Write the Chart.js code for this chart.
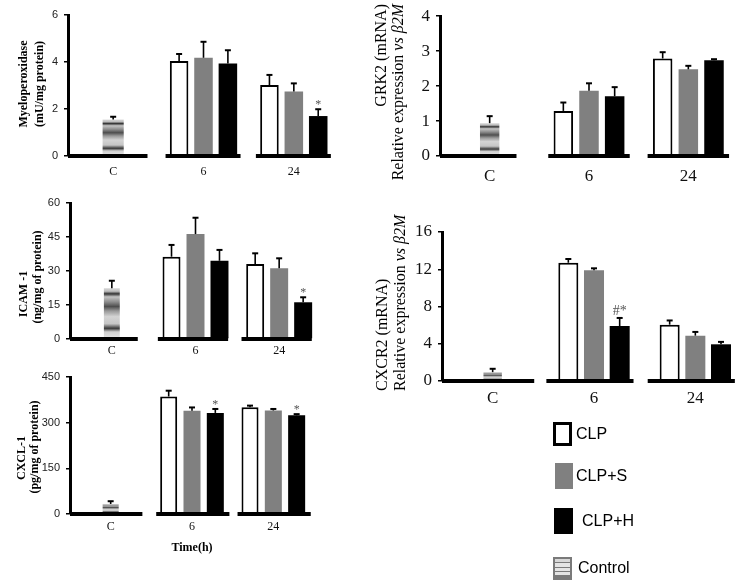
<!DOCTYPE html>
<html><head><meta charset="utf-8">
<script src="https://cdn.jsdelivr.net/npm/chart.js@4.4.1/dist/chart.umd.min.js"></script>
<style>
html,body{margin:0;padding:0;background:#fff;width:749px;height:586px;overflow:hidden;position:relative}
canvas{position:absolute;left:0;top:0}
.lgb{position:absolute;box-sizing:border-box}
.lgt{position:absolute;font-family:"Liberation Sans",Arial,sans-serif;font-size:16px;color:#000;line-height:16px;transform:translateY(-50%)}
</style></head><body>
<canvas id="mpo" width="749" height="586"></canvas>
<canvas id="icam" width="749" height="586"></canvas>
<canvas id="cxcl" width="749" height="586"></canvas>
<canvas id="grk" width="749" height="586"></canvas>
<canvas id="cxcr" width="749" height="586"></canvas>

<div class="lgb" style="left:553px;top:422px;width:19px;height:24px;border:3px solid #000;background:#fff"></div>
<div class="lgt" style="left:576px;top:434px">CLP</div>
<div class="lgb" style="left:555px;top:463px;width:18px;height:26px;background:#808080"></div>
<div class="lgt" style="left:576px;top:476px">CLP+S</div>
<div class="lgb" style="left:554px;top:508px;width:19px;height:26px;background:#000"></div>
<div class="lgt" style="left:582px;top:521px">CLP+H</div>
<div class="lgb" style="left:553px;top:557px;width:19px;height:23px;border:2px solid #7a7a7a;background:linear-gradient(#d8d8d8 0 14%,#7a7a7a 14% 22%,#e4e4e4 22% 40%,#7a7a7a 40% 48%,#e4e4e4 48% 62%,#7a7a7a 62% 70%,#e4e4e4 70% 86%,#7a7a7a 86%)"></div>
<div class="lgt" style="left:578px;top:568px">Control</div>

<script>
// ---------- shared categories ----------
const categories = ['C', '6', '24'];

// ---------- Myeloperoxidase ----------
const mpoTicks = [0, 2, 4, 6];
const mpoControl = [1.55, null, null];
const mpoControlErr = [0.12, null, null];
const mpoCLP = [null, 4.04, 3.02];
const mpoCLPErr = [null, 0.30, 0.43];
const mpoCLPS = [null, 4.18, 2.74];
const mpoCLPSErr = [null, 0.68, 0.35];
const mpoCLPH = [null, 3.94, 1.70];
const mpoCLPHErr = [null, 0.56, 0.29];
const mpoCLPHMarks = ['', '', '*'];

// ---------- ICAM-1 ----------
const icamTicks = [0, 15, 30, 45, 60];
const icamControl = [22.4, null, null];
const icamControlErr = [3.3, null, null];
const icamCLP = [null, 36.3, 33.1];
const icamCLPErr = [null, 5.2, 4.7];
const icamCLPS = [null, 46.3, 31.2];
const icamCLPSErr = [null, 7.2, 4.4];
const icamCLPH = [null, 34.5, 16.2];
const icamCLPHErr = [null, 4.8, 2.2];
const icamCLPHMarks = ['', '', '*'];

// ---------- CXCL-1 ----------
const cxclTicks = [0, 150, 300, 450];
const cxclControl = [33, null, null];
const cxclControlErr = [9, null, null];
const cxclCLP = [null, 386, 351];
const cxclCLPErr = [null, 19, 5];
const cxclCLPS = [null, 339, 340];
const cxclCLPSErr = [null, 11, 5];
const cxclCLPH = [null, 332, 324];
const cxclCLPHErr = [null, 13, 4];
const cxclCLPHMarks = ['', '*', '*'];

// ---------- GRK2 ----------
const grkTicks = [0, 1, 2, 3, 4];
const grkControl = [0.94, null, null];
const grkControlErr = [0.20, null, null];
const grkCLP = [null, 1.29, 2.79];
const grkCLPErr = [null, 0.24, 0.18];
const grkCLPS = [null, 1.87, 2.48];
const grkCLPSErr = [null, 0.21, 0.10];
const grkCLPH = [null, 1.71, 2.74];
const grkCLPHErr = [null, 0.26, 0.03];
const grkCLPHMarks = ['', '', ''];

// ---------- CXCR2 ----------
const cxcrTicks = [0, 4, 8, 12, 16];
const cxcrControl = [0.95, null, null];
const cxcrControlErr = [0.36, null, null];
const cxcrCLP = [null, 12.7, 6.05];
const cxcrCLPErr = [null, 0.40, 0.45];
const cxcrCLPS = [null, 11.9, 4.87];
const cxcrCLPSErr = [null, 0.20, 0.40];
const cxcrCLPH = [null, 5.9, 3.94];
const cxcrCLPHErr = [null, 0.87, 0.26];
const cxcrCLPHMarks = ['', '#*', ''];

// ---------- helpers ----------
function stripeFill(c) {
  const chart = c.chart;
  const v = c.raw;
  if (!chart.chartArea || v == null) return '#c8c8c8';
  const y = chart.scales.y;
  const top = y.getPixelForValue(v), bot = y.getPixelForValue(0);
  const g = chart.ctx.createLinearGradient(0, top, 0, bot);
  g.addColorStop(0.00, '#d6d6d6');
  g.addColorStop(0.06, '#bdbdbd');
  g.addColorStop(0.11, '#333333');
  g.addColorStop(0.17, '#c4c4c4');
  g.addColorStop(0.27, '#8c8c8c');
  g.addColorStop(0.36, '#4e4e4e');
  g.addColorStop(0.45, '#9a9a9a');
  g.addColorStop(0.56, '#d4d4d4');
  g.addColorStop(0.70, '#c6c6c6');
  g.addColorStop(0.79, '#3a3a3a');
  g.addColorStop(0.86, '#d0d0d0');
  g.addColorStop(1.00, '#e6e6e6');
  return g;
}

const baselinePlugin = {
  id: 'baselineSegs',
  afterDatasetsDraw(chart, args, opts) {
    const {ctx, chartArea, scales} = chart;
    const xs = scales.x, ys = scales.y;
    const y0 = ys.getPixelForValue(0);
    const cw = xs.getPixelForValue(1) - xs.getPixelForValue(0);
    ctx.save();
    ctx.strokeStyle = '#000';
    ctx.lineWidth = 4;
    ctx.lineCap = 'butt';
    for (let i = 0; i < xs.getLabels().length; i++) {
      const c = xs.getPixelForValue(i);
      let a = c - cw * opts.segL, b = c + cw * opts.segR;
      if (i === 0) { a = chartArea.left; b = c + cw * opts.segC; }
      ctx.beginPath(); ctx.moveTo(a, y0); ctx.lineTo(b, y0); ctx.stroke();
    }
    ctx.restore();
  }
};

const errPlugin = {
  id: 'errBars',
  afterDatasetsDraw(chart, args, opts) {
    const {ctx, scales} = chart;
    const ys = scales.y;
    ctx.save();
    chart.data.datasets.forEach((ds, i) => {
      const meta = chart.getDatasetMeta(i);
      ds.data.forEach((v, j) => {
        if (v == null) return;
        const el = meta.data[j];
        const e = ds.err ? ds.err[j] : null;
        const x = el.x;
        const yt = ys.getPixelForValue(v);
        let ye = yt;
        if (e != null) {
          ye = ys.getPixelForValue(v + e);
          ctx.strokeStyle = '#000';
          ctx.lineWidth = 1.6;
          ctx.beginPath(); ctx.moveTo(x, yt); ctx.lineTo(x, ye); ctx.stroke();
          ctx.lineWidth = 2;
          ctx.beginPath(); ctx.moveTo(x - 3, ye); ctx.lineTo(x + 3, ye); ctx.stroke();
        }
        const m = ds.marks ? ds.marks[j] : '';
        if (m) {
          ctx.fillStyle = '#555';
          ctx.font = opts.markFont;
          ctx.textAlign = 'center';
          ctx.textBaseline = 'alphabetic';
          ctx.fillText(m, x, ye - opts.markGap);
        }
      });
    });
    ctx.restore();
  }
};

const textPlugin = {
  id: 'richTexts',
  afterDraw(chart, args, opts) {
    const ctx = chart.ctx;
    (opts.items || []).forEach(it => {
      ctx.save();
      ctx.translate(it.x, it.y);
      if (it.rot) ctx.rotate(it.rot);
      ctx.fillStyle = it.color || '#000';
      ctx.textBaseline = 'middle';
      ctx.textAlign = 'left';
      let total = 0;
      it.parts.forEach(p => { ctx.font = p.f; total += ctx.measureText(p.t).width; });
      let pos = it.align === 'right' ? -total : it.align === 'left' ? 0 : -total / 2;
      it.parts.forEach(p => { ctx.font = p.f; ctx.fillText(p.t, pos, 0); pos += ctx.measureText(p.t).width; });
      ctx.restore();
    });
  }
};

function makePanel(id, p) {
  const YW = p.yW, XH = 40;
  const common = {skipNull: true, barPercentage: p.barPct, categoryPercentage: p.grpPct, borderSkipped: 'start'};
  const datasets = [
    Object.assign({}, common, {label: 'Control', data: p.control, err: p.controlErr, backgroundColor: stripeFill, borderWidth: 0, categoryPercentage: p.ctrlCat, barPercentage: p.ctrlBar}),
    Object.assign({}, common, {label: 'CLP', data: p.clp, err: p.clpErr, backgroundColor: '#ffffff', borderColor: '#000', borderWidth: 2}),
    Object.assign({}, common, {label: 'CLP+S', data: p.clps, err: p.clpsErr, backgroundColor: '#808080', borderWidth: 0}),
    Object.assign({}, common, {label: 'CLP+H', data: p.clph, err: p.clphErr, marks: p.clphMarks, backgroundColor: '#000000', borderWidth: 0})
  ];
  new Chart(document.getElementById(id), {
    type: 'bar',
    data: {labels: categories, datasets},
    options: {
      responsive: false,
      animation: false,
      events: [],
      layout: {autoPadding: false, padding: {left: p.L - YW, right: 749 - p.R, top: p.T, bottom: 586 - p.B - XH}},
      scales: {
        x: {
          type: 'category', offset: true,
          grid: {display: false, drawTicks: false},
          border: {display: false},
          ticks: {font: p.xFont, color: '#111', padding: p.xPad, maxRotation: 0, autoSkip: false},
          afterFit: s => { s.height = XH; }
        },
        y: {
          min: 0, max: p.ticks[p.ticks.length - 1],
          afterBuildTicks: s => { s.ticks = p.ticks.map(v => ({value: v})); },
          ticks: {font: p.yFont, color: p.yColor, padding: p.yPad},
          grid: {drawOnChartArea: false, drawTicks: true, tickLength: 4, color: '#000', lineWidth: 1.5},
          border: {display: true, color: '#000', width: 3},
          afterFit: s => { s.width = YW; }
        }
      },
      plugins: {
        legend: {display: false},
        tooltip: {enabled: false},
        baselineSegs: {segL: p.segL, segR: p.segR, segC: p.segC},
        errBars: {markFont: p.markFont, markGap: p.markGap},
        richTexts: {items: p.texts}
      }
    },
    plugins: [baselinePlugin, errPlugin, textPlugin]
  });
}

const leftY = {family: '"Liberation Sans", Arial, sans-serif', size: 11};
const leftX = {family: '"Liberation Serif", "Times New Roman", serif', size: 12};
const rightY = {family: '"Liberation Serif", "Times New Roman", serif', size: 17};
const rightX = {family: '"Liberation Serif", "Times New Roman", serif', size: 17};
const bTitle = 'bold 12px "Liberation Serif", "Times New Roman", serif';
const rT = '16px "Liberation Serif", "Times New Roman", serif';
const rTi = 'italic 16px "Liberation Serif", "Times New Roman", serif';
const ROT = -Math.PI / 2;

makePanel('mpo', {
  control: mpoControl, controlErr: mpoControlErr, clp: mpoCLP, clpErr: mpoCLPErr,
  clps: mpoCLPS, clpsErr: mpoCLPSErr, clph: mpoCLPH, clphErr: mpoCLPHErr, clphMarks: mpoCLPHMarks,
  ticks: mpoTicks, L: 68, R: 339, T: 15, B: 156, yW: 45,
  ctrlCat: 0.30, ctrlBar: 0.78, grpPct: 0.81, barPct: 0.76,
  segL: 0.42, segR: 0.41, segC: 0.38,
  yFont: leftY, yColor: '#222', yPad: 6, xFont: leftX, xPad: 9,
  markFont: '12px "Liberation Serif", serif', markGap: 1,
  texts: [
    {x: 24, y: 84, rot: ROT, parts: [{t: 'Myeloperoxidase', f: bTitle}]},
    {x: 40, y: 84, rot: ROT, parts: [{t: '(mU/mg protein)', f: bTitle}]}
  ]
});

makePanel('icam', {
  control: icamControl, controlErr: icamControlErr, clp: icamCLP, clpErr: icamCLPErr,
  clps: icamCLPS, clpsErr: icamCLPSErr, clph: icamCLPH, clphErr: icamCLPHErr, clphMarks: icamCLPHMarks,
  ticks: icamTicks, L: 70, R: 321, T: 203, B: 339, yW: 45,
  ctrlCat: 0.25, ctrlBar: 0.76, grpPct: 0.86, barPct: 0.75,
  segL: 0.45, segR: 0.39, segC: 0.31,
  yFont: leftY, yColor: '#222', yPad: 6, xFont: leftX, xPad: 5,
  markFont: '12px "Liberation Serif", serif', markGap: 1,
  texts: [
    {x: 24, y: 294, rot: ROT, parts: [{t: 'ICAM -1', f: bTitle}]},
    {x: 38, y: 277, rot: ROT, parts: [{t: '(ng/mg of protein)', f: bTitle}]}
  ]
});

makePanel('cxcl', {
  control: cxclControl, controlErr: cxclControlErr, clp: cxclCLP, clpErr: cxclCLPErr,
  clps: cxclCLPS, clpsErr: cxclCLPSErr, clph: cxclCLPH, clphErr: cxclCLPHErr, clphMarks: cxclCLPHMarks,
  ticks: cxclTicks, L: 70, R: 314, T: 377, B: 514, yW: 45,
  ctrlCat: 0.26, ctrlBar: 0.76, grpPct: 0.86, barPct: 0.73,
  segL: 0.44, segR: 0.46, segC: 0.39,
  yFont: leftY, yColor: '#222', yPad: 6, xFont: leftX, xPad: 6,
  markFont: '12px "Liberation Serif", serif', markGap: 1,
  texts: [
    {x: 22, y: 458, rot: ROT, parts: [{t: 'CXCL-1', f: bTitle}]},
    {x: 35, y: 447, rot: ROT, parts: [{t: '(pg/mg of protein)', f: bTitle}]},
    {x: 192, y: 548, parts: [{t: 'Time(h)', f: bTitle}]}
  ]
});

makePanel('grk', {
  control: grkControl, controlErr: grkControlErr, clp: grkCLP, clpErr: grkCLPErr,
  clps: grkCLPS, clpsErr: grkCLPSErr, clph: grkCLPH, clphErr: grkCLPHErr, clphMarks: grkCLPHMarks,
  ticks: grkTicks, L: 440, R: 738, T: 10, B: 156, yW: 40,
  ctrlCat: 0.25, ctrlBar: 0.78, grpPct: 0.775, barPct: 0.76,
  segL: 0.41, segR: 0.41, segC: 0.27,
  yFont: rightY, yColor: '#111', yPad: 6, xFont: rightX, xPad: 10,
  markFont: '14px "Liberation Serif", serif', markGap: 2,
  texts: [
    {x: 382, y: 4, rot: ROT, align: 'right', parts: [{t: 'GRK2 (mRNA)', f: rT}]},
    {x: 399, y: 4, rot: ROT, align: 'right', parts: [{t: 'Relative expression ', f: rT}, {t: 'vs', f: rTi}, {t: ' ', f: rT}, {t: 'β2M', f: rTi}]}
  ]
});

makePanel('cxcr', {
  control: cxcrControl, controlErr: cxcrControlErr, clp: cxcrCLP, clpErr: cxcrCLPErr,
  clps: cxcrCLPS, clpsErr: cxcrCLPSErr, clph: cxcrCLPH, clphErr: cxcrCLPHErr, clphMarks: cxcrCLPHMarks,
  ticks: cxcrTicks, L: 442, R: 746, T: 232, B: 381, yW: 40,
  ctrlCat: 0.23, ctrlBar: 0.79, grpPct: 0.76, barPct: 0.78,
  segL: 0.47, segR: 0.39, segC: 0.41,
  yFont: rightY, yColor: '#111', yPad: 6, xFont: rightX, xPad: 7,
  markFont: '14px "Liberation Serif", serif', markGap: 3,
  texts: [
    {x: 383, y: 391, rot: ROT, align: 'left', parts: [{t: 'CXCR2 (mRNA)', f: rT}]},
    {x: 401, y: 391, rot: ROT, align: 'left', parts: [{t: 'Relative expression ', f: rT}, {t: 'vs', f: rTi}, {t: ' ', f: rT}, {t: 'β2M', f: rTi}]}
  ]
});
</script>
</body></html>
